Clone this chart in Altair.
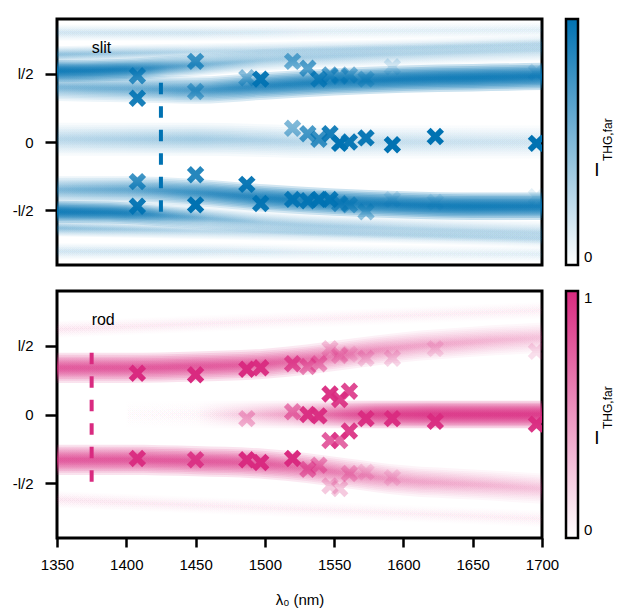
import altair as alt
import pandas as pd

BLUE = "#0072b2"
BLUE_RGB = (0, 114, 178)
PINK = "#d92a80"
PINK_RGB = (217, 42, 128)

X_DOMAIN = [1350, 1700]
Y_DOMAIN = [-0.9, 0.9]
X_TICKS = [1350, 1400, 1450, 1500, 1550, 1600, 1650, 1700]
Y_TICKS = [-0.5, 0, 0.5]

# ---- measured markers (wavelength nm, position in units of l, opacity) ----
slit_wl = [1408, 1408, 1408, 1408, 1450, 1450, 1450, 1450, 1487, 1487, 1497, 1497,
           1520, 1520, 1520, 1531, 1531, 1531, 1539, 1539, 1539, 1547, 1547, 1547,
           1554, 1554, 1554, 1561, 1561, 1561, 1573, 1573, 1573, 1592, 1592, 1592,
           1623, 1623, 1696, 1696, 1696]
slit_pos = [0.485, 0.32, -0.29, -0.47, 0.59, 0.37, -0.24, -0.46, 0.47, -0.31, 0.46, -0.45,
            0.59, 0.10, -0.42, 0.54, 0.06, -0.43, 0.46, 0.02, -0.42, 0.49, 0.06, -0.42,
            0.48, -0.01, -0.45, 0.49, 0.0, -0.46, 0.46, 0.03, -0.51, 0.55, -0.02, -0.42,
            0.04, -0.44, 0.51, -0.01, -0.40]
slit_alpha = [0.75, 0.9, 0.75, 0.95, 0.7, 0.5, 0.85, 1.0, 0.45, 0.95, 0.95, 0.95,
              0.55, 0.5, 0.9, 0.65, 0.7, 0.9, 0.75, 0.75, 0.95, 0.6, 0.9, 0.9,
              0.45, 1.0, 0.6, 0.45, 0.95, 0.5, 0.35, 0.95, 0.4, 0.15, 1.0, 0.15,
              1.0, 0.12, 0.15, 1.0, 0.1]

rod_wl = [1408, 1408, 1450, 1450, 1487, 1487, 1487, 1497, 1497,
          1520, 1520, 1520, 1531, 1531, 1531, 1539, 1539, 1539,
          1547, 1547, 1547, 1547, 1554, 1554, 1554, 1554,
          1561, 1561, 1561, 1561, 1573, 1573, 1573, 1592, 1592, 1592,
          1623, 1623, 1696, 1696]
rod_pos = [0.30, -0.32, 0.29, -0.33, 0.33, -0.03, -0.33, 0.34, -0.35,
           0.37, 0.02, -0.32, 0.35, 0.0, -0.40, 0.37, -0.01, -0.37,
           0.48, 0.15, -0.19, -0.52, 0.43, 0.11, -0.19, -0.54,
           0.44, 0.17, -0.12, -0.43, 0.41, -0.03, -0.42, 0.41, -0.03, -0.46,
           0.48, -0.05, 0.46, -0.07]
rod_alpha = [1.0, 0.95, 1.0, 0.85, 1.0, 0.35, 1.0, 0.95, 1.0,
             0.75, 0.55, 1.0, 0.55, 0.95, 0.55, 0.45, 0.95, 0.45,
             0.25, 0.95, 0.75, 0.25, 0.3, 0.9, 0.7, 0.25,
             0.15, 0.85, 0.9, 0.3, 0.2, 0.95, 0.15, 0.2, 0.95, 0.15,
             0.15, 0.95, 0.15, 0.95]

# ---- simulated intensity bands: (wavelengths, centre, relative intensity, half width) ----
slit_bands = [
    ([1350, 1450, 1550, 1700], [0.80, 0.80, 0.81, 0.82], [0.08, 0.08, 0.06, 0.05], 0.06),
    ([1350, 1450, 1550, 1700], [-0.80, -0.80, -0.81, -0.82], [0.08, 0.08, 0.06, 0.05], 0.06),
    ([1350, 1450, 1550, 1700], [0.02, 0.02, 0.0, 0.0], [0.15, 0.2, 0.12, 0.08], 0.12),
    ([1350, 1450, 1550, 1700], [0.64, 0.66, 0.68, 0.72], [0.25, 0.15, 0.12, 0.10], 0.06),
    ([1350, 1450, 1550, 1700], [-0.63, -0.65, -0.67, -0.71], [0.25, 0.15, 0.12, 0.10], 0.06),
    ([1350, 1400, 1430, 1460, 1500, 1600, 1700], [0.52, 0.53, 0.55, 0.57, 0.60, 0.64, 0.67],
     [1.0, 0.85, 0.5, 0.3, 0.2, 0.15, 0.12], 0.08),
    ([1350, 1400, 1430, 1460, 1500, 1600, 1700], [-0.51, -0.52, -0.54, -0.56, -0.59, -0.63, -0.66],
     [1.0, 0.85, 0.5, 0.3, 0.2, 0.15, 0.12], 0.08),
    ([1350, 1400, 1450, 1500, 1550, 1600, 1650, 1700], [0.40, 0.39, 0.38, 0.41, 0.44, 0.46, 0.47, 0.48],
     [0.3, 0.35, 0.5, 0.75, 0.85, 0.95, 1.0, 0.95], 0.10),
    ([1350, 1400, 1450, 1500, 1550, 1600, 1650, 1700], [-0.35, -0.35, -0.37, -0.41, -0.44, -0.46, -0.47, -0.47],
     [0.3, 0.4, 0.6, 0.8, 0.9, 0.95, 1.0, 0.95], 0.10),
]

rod_bands = [
    ([1350, 1500, 1700], [0.62, 0.68, 0.76], [0.05, 0.04, 0.03], 0.06),
    ([1350, 1500, 1700], [-0.62, -0.68, -0.76], [0.05, 0.04, 0.03], 0.06),
    ([1350, 1400, 1450, 1500, 1530, 1560, 1600, 1650, 1700],
     [0.34, 0.34, 0.35, 0.37, 0.40, 0.44, 0.49, 0.53, 0.56],
     [0.6, 0.6, 0.6, 0.55, 0.45, 0.35, 0.25, 0.2, 0.15], 0.11),
    ([1350, 1400, 1450, 1500, 1530, 1560, 1600, 1650, 1700],
     [-0.33, -0.33, -0.34, -0.36, -0.39, -0.43, -0.48, -0.51, -0.54],
     [0.6, 0.6, 0.6, 0.55, 0.45, 0.35, 0.25, 0.2, 0.15], 0.11),
    ([1350, 1450, 1480, 1520, 1550, 1580, 1620, 1700],
     [0.0, 0.0, 0.0, 0.0, 0.0, 0.0, 0.0, 0.0],
     [0.0, 0.02, 0.1, 0.25, 0.5, 0.8, 0.95, 0.95], 0.10),
]

# dashed guide lines: (wavelength, bottom, top)
slit_guide = (1425, -0.51, 0.46)
rod_guide = (1375, -0.49, 0.46)

FRACS = [1.0, 0.86, 0.74, 0.63, 0.53, 0.44, 0.35, 0.27, 0.19, 0.11]
ALPHA = 0.22

FONT = "Liberation Sans"


def axes(show_x):
    xax = alt.Axis(values=X_TICKS, format="d", title="λ₀ (nm)", tickSize=9, tickWidth=2.5,
                   tickColor="black", domain=False, grid=False, labelFontSize=15,
                   labelColor="black", labelPadding=10, titleFontSize=15,
                   titleFontWeight="normal", titleColor="black", titlePadding=20,
                   labelFlush=False) if show_x else None
    yax = alt.Axis(values=Y_TICKS, title=None, tickSize=12, tickWidth=2.5, tickColor="black",
                   domain=False, grid=False, labelFontSize=15, labelColor="black", labelPadding=12,
                   labelExpr="datum.value < 0 ? '-l/2' : (datum.value > 0 ? 'l/2' : '0')")
    return xax, yax


def panel(name, bands, rgb, hexcol, wl, pos, alpha, guide, show_x, legend_values,
          height, title_y_I, title_y_sub):
    xax, yax = axes(show_x)
    xs = alt.Scale(domain=X_DOMAIN, nice=False, zero=False)
    ys = alt.Scale(domain=Y_DOMAIN, nice=False, zero=False)
    xtitle = "λ₀ (nm)"
    layers = []
    r, g, b = rgb
    for bx, bc, bi, w in bands:
        x0, x1 = bx[0], bx[-1]
        stops = [alt.GradientStop(offset=(x - x0) / (x1 - x0),
                                  color=f"rgba({r},{g},{b},{min(1.0, i * ALPHA):.3f})")
                 for x, i in zip(bx, bi)]
        grad = alt.Gradient(gradient="linear", stops=stops, x1=0, x2=1, y1=0, y2=0)
        for f in FRACS:
            df = pd.DataFrame({"x": bx,
                               "lo": [c - w * f for c in bc],
                               "hi": [c + w * f for c in bc]})
            layers.append(
                alt.Chart(df).mark_area(interpolate="monotone", clip=True, color=grad).encode(
                    x=alt.X("x:Q", scale=xs, axis=xax, title=xtitle),
                    y=alt.Y("lo:Q", scale=ys, axis=yax, title=None),
                    y2="hi:Q",
                )
            )
    gdf = pd.DataFrame({"x": [guide[0]], "y": [guide[1]], "y2": [guide[2]]})
    layers.append(
        alt.Chart(gdf).mark_rule(color=hexcol, strokeWidth=4, strokeDash=[11.5, 12]).encode(
            x=alt.X("x:Q", scale=xs, axis=xax, title=xtitle),
            y=alt.Y("y:Q", scale=ys, axis=yax, title=None),
            y2="y2:Q",
        )
    )
    mdf = pd.DataFrame({"x": wl, "y": pos, "a": alpha})
    xshape = ("M-1,-0.3L-0.3,-0.3L-0.3,-1L0.3,-1L0.3,-0.3L1,-0.3L1,0.3L0.3,0.3"
              "L0.3,1L-0.3,1L-0.3,0.3L-1,0.3Z")
    layers.append(
        alt.Chart(mdf).mark_point(shape=xshape, angle=45, filled=True, size=360, color=hexcol,
                                  strokeWidth=0, clip=True).encode(
            x=alt.X("x:Q", scale=xs, axis=xax, title=xtitle),
            y=alt.Y("y:Q", scale=ys, axis=yax, title=None),
            opacity=alt.Opacity("a:Q", scale=None, legend=None),
        )
    )
    tdf = pd.DataFrame({"x": [1375], "y": [0.69], "t": [name]})
    layers.append(
        alt.Chart(tdf).mark_text(align="left", baseline="middle", fontSize=16, color="black",
                                 font=FONT).encode(
            x=alt.X("x:Q", scale=xs, axis=xax, title=xtitle),
            y=alt.Y("y:Q", scale=ys, axis=yax, title=None),
            text="t:N",
        )
    )
    ldf = pd.DataFrame({"v": [0.0, 1.0]})
    layers.append(
        alt.Chart(ldf).mark_rect().encode(
            x=alt.value(0), x2=alt.value(0), y=alt.value(0), y2=alt.value(0),
            color=alt.Color("v:Q", scale=alt.Scale(domain=[0, 1], range=["#ffffff", hexcol],
                                                   interpolate="rgb"),
                            legend=alt.Legend(title=None, values=legend_values, format="d",
                                              orient="right", direction="vertical",
                                              gradientLength=height, gradientThickness=12,
                                              gradientStrokeColor="black",
                                              gradientStrokeWidth=2.5, labelFontSize=15,
                                              labelColor="black", labelOffset=6, offset=24,
                                              padding=0)),
        )
    )
    idf = pd.DataFrame({"t": ["I"]})
    layers.append(
        alt.Chart(idf).mark_text(align="center", baseline="alphabetic", fontSize=19,
                                 color="black", font=FONT).encode(
            text="t:N", x=alt.value(540), y=alt.value(title_y_I))
    )
    sdf = pd.DataFrame({"t": ["THG,far"]})
    layers.append(
        alt.Chart(sdf).mark_text(align="left", baseline="alphabetic", fontSize=12, angle=270,
                                 color="black", font=FONT).encode(
            text="t:N", x=alt.value(555), y=alt.value(title_y_sub))
    )
    return alt.layer(*layers).properties(width=485, height=height)


top = panel("slit", slit_bands, BLUE_RGB, BLUE, slit_wl, slit_pos, slit_alpha, slit_guide,
            False, [0], 246, 157, 142)
bottom = panel("rod", rod_bands, PINK_RGB, PINK, rod_wl, rod_pos, rod_alpha, rod_guide,
               True, [0, 1], 247, 153, 138)

chart = (
    alt.vconcat(top, bottom, spacing=20)
    .resolve_scale(color="independent", opacity="independent")
    .resolve_legend(color="independent")
    .properties(padding={"left": 2, "top": 9, "right": 5, "bottom": 5})
    .configure(font=FONT)
    .configure_view(stroke="black", strokeWidth=3)
)

chart.save("out.html", embed_options={"renderer": "svg", "actions": False})
